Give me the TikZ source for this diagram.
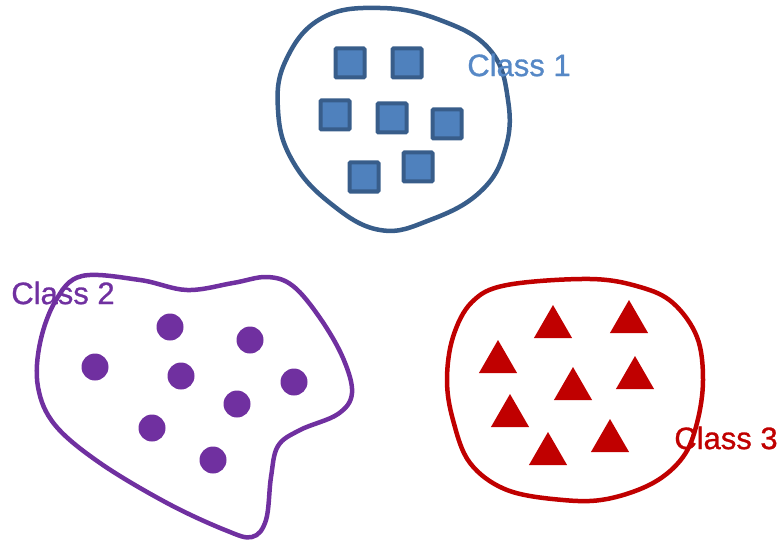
\documentclass[tikz,border=0pt]{standalone}
\usepackage{fontspec}
\setmainfont{Liberation Sans}[BoldFont=Liberation Sans, BoldFeatures={FakeBold=0.9}]
\usetikzlibrary{shapes.geometric}
\definecolor{classoneline}{RGB}{56,93,138}
\definecolor{classonefill}{RGB}{79,129,189}
\definecolor{classonetext}{RGB}{86,136,198}
\definecolor{classtwo}{RGB}{112,48,160}
\definecolor{classthree}{RGB}{192,0,0}

\begin{document}
\begin{tikzpicture}[x=1pt,y=-1pt,
  blob/.style={line width=4.5pt},
  sq/.style={draw=classoneline, fill=classonefill, line width=4pt, minimum size=29pt, inner sep=0pt, rounded corners=1pt},
  dot/.style={circle, fill=classtwo, minimum size=27pt, inner sep=0pt},
  tri/.style={regular polygon, regular polygon sides=3, fill=classthree, minimum size=44pt, inner sep=0pt},
  lbl/.style={font=\fontsize{31}{34}\selectfont\bfseries, inner sep=0pt}]
  \useasboundingbox (0,0) rectangle (781,540);
  % class 1: squares
  \draw[blob, classoneline] plot[smooth cycle, tension=0.7] coordinates {
    (380,8) (440,20) (490,50) (508,100) (505,150) (480,192) (430,220) (380,230)
    (330,203) (292,160) (278,110) (286,60) (322,18)};
  \foreach \n/\x/\y in {1/350/63, 2/407/63, 3/335/115, 4/392/118,
                        5/447/124, 6/364/177, 7/418/167}
    \node[sq] (sq\n) at (\x,\y) {};
  \node[lbl, text=classonetext] (class1) at (519,65) {Class 1};
  % class 2: dots
  \draw[blob, classtwo] plot[smooth cycle, tension=0.6] coordinates {
    (82,276) (140,280) (187,290) (233,283) (267,277) (293,286) (320,318)
    (343,358) (352,393) (338,414) (300,430) (278,446) (271,477) (266,520)
    (252,537) (225,530) (167,503) (100,463) (55,425) (38,387) (40,343) (56,300)};
  \foreach \n/\x/\y in {1/170/327, 2/250/340, 3/95/367, 4/181/376,
                        5/294/382, 6/237/404, 7/152/428, 8/213/460}
    \node[dot] (dot\n) at (\x,\y) {};
  \node[lbl, text=classtwo] (class2) at (63,293) {Class 2};
  % class 3: triangles
  \draw[blob, classthree] plot[smooth cycle, tension=0.6] coordinates {
    (507,285) (590,279) (640,287) (673,303) (697,337) (703,380) (697,423)
    (683,457) (653,483) (607,499) (563,500) (507,490) (470,463) (453,420)
    (447,380) (453,337) (472,302)};
  \foreach \n/\x/\y in {1/553/327, 2/629/322, 3/498/362, 4/573/389,
                        5/635/378, 6/510/416, 7/610/441, 8/548/454}
    \node[tri] (tri\n) at (\x,\y) {};
  \node[lbl, text=classthree] (class3) at (726,438) {Class 3};
\end{tikzpicture}
\end{document}
